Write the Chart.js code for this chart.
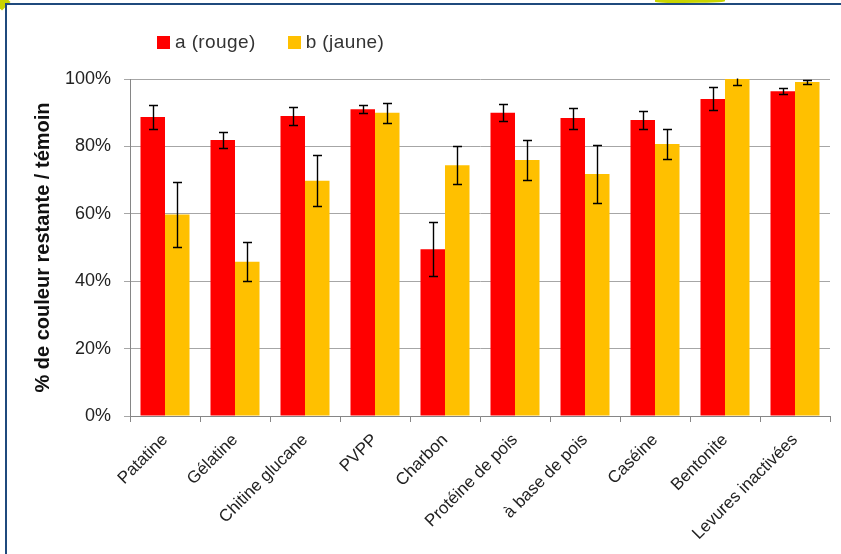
<!DOCTYPE html>
<html>
<head>
<meta charset="utf-8">
<script src="https://cdn.jsdelivr.net/npm/chart.js@4"></script>
<style>
  html, body { margin: 0; padding: 0; background: #fff; }
  #wrap { position: relative; width: 841px; height: 554px; overflow: hidden; }
  #frame { position: absolute; left: 5px; top: 3px; right: -10px; bottom: -10px;
           border-top: 2px solid #1f4a7d; border-left: 2px solid #1f4a7d; pointer-events: none; }
  #swoosh1 { position: absolute; left: 655px; top: 0; width: 70px; height: 3px;
             background: #c8d400; border-radius: 0 0 60% 40%; }
  #swoosh2 { position: absolute; left: -4px; top: -4px; width: 12px; height: 12px;
             background: #c8d400; transform: rotate(45deg); }
  #legend { position: absolute; left: 157px; top: 31px; font: 19px "Liberation Sans", Arial, sans-serif;
            color: #333; display: flex; gap: 32px; letter-spacing: 0.4px; }
  #legend span.box { display: inline-block; width: 13px; height: 13px; margin-right: 5px; vertical-align: -1px; }
  canvas { position: absolute; left: 0; top: 0; }
</style>
</head>
<body>
<div id="wrap">
  <canvas id="chart" width="841" height="554"></canvas>
  <div id="legend">
    <div><span class="box" style="background:#ff0000"></span>a (rouge)</div>
    <div><span class="box" style="background:#ffc000"></span>b (jaune)</div>
  </div>
  <div id="swoosh1"></div>
  <div id="swoosh2"></div>
  <div id="frame"></div>
</div>
<script>
// categories and values (% de couleur restante / témoin)
let categories = ['Patatine', 'Gélatine', 'Chitine glucane', 'PVPP', 'Charbon',
                  'Protéine de pois', 'à base de pois', 'Caséine', 'Bentonite', 'Levures inactivées'];
let rouge = [88.7, 81.9, 89.0, 91.0, 49.5, 90.0, 88.4, 87.8, 94.1, 96.4];
let rougeErr = [3.6, 2.3, 2.6, 1.2, 8.0, 2.6, 3.1, 2.6, 3.4, 0.9];
let jaune = [59.8, 45.8, 69.8, 90.0, 74.4, 76.0, 71.8, 80.7, 100, 99.1];
let jauneErr = [9.6, 5.8, 7.6, 3.0, 5.7, 6.0, 8.6, 4.4, 1.8, 0.7];
let yTicks = [0, 20, 40, 60, 80, 100];

let errorBars = {
    id: 'errorBars',
    afterDatasetsDraw: function(chart) {
        let ctx = chart.ctx;
        let y = chart.scales.y;
        let area = chart.chartArea;
        ctx.save();
        ctx.beginPath();
        ctx.rect(area.left, area.top - 0.5, area.right - area.left, area.bottom - area.top + 1);
        ctx.clip();
        ctx.strokeStyle = '#000';
        ctx.lineWidth = 1.4;
        chart.data.datasets.forEach(function(ds, di) {
            let meta = chart.getDatasetMeta(di);
            meta.data.forEach(function(bar, i) {
                let v = ds.data[i];
                let e = ds.errors[i];
                let yt = Math.round(y.getPixelForValue(v + e)) + 0.5;
                let yb = Math.round(y.getPixelForValue(v - e)) + 0.5;
                let x = Math.round(bar.x) + 0.5;
                ctx.beginPath();
                ctx.moveTo(x, yt); ctx.lineTo(x, yb);
                ctx.moveTo(x - 4.5, yt); ctx.lineTo(x + 4.5, yt);
                ctx.moveTo(x - 4.5, yb); ctx.lineTo(x + 4.5, yb);
                ctx.stroke();
            });
        });
        ctx.restore();
    }
};

let config = {
    type: 'bar',
    data: {
        labels: categories,
        datasets: [
            { label: 'a (rouge)', data: rouge, errors: rougeErr, backgroundColor: '#ff0000' },
            { label: 'b (jaune)', data: jaune, errors: jauneErr, backgroundColor: '#ffc000' }
        ]
    },
    options: {
        responsive: false,
        animation: false,
        layout: { padding: { left: 25, right: 11, top: 79, bottom: 0 } },
        datasets: { bar: { categoryPercentage: 0.7, barPercentage: 1.0 } },
        plugins: {
            legend: { display: false },
            tooltip: { enabled: false }
        },
        scales: {
            y: {
                min: 0,
                max: 100,
                afterBuildTicks: function(scale) {
                    scale.ticks = yTicks.map(function(v) { return { value: v }; });
                },
                afterFit: function(scale) { scale.width = 105; },
                grid: { color: '#a6a6a6', lineWidth: 1, tickLength: 6 },
                border: { color: '#868686' },
                ticks: {
                    padding: 13,
                    color: '#222',
                    font: { family: '"Liberation Sans", Arial, sans-serif', size: 18 },
                    callback: function(value) { return value + '%'; }
                },
                title: {
                    display: true,
                    text: '% de couleur restante / témoin',
                    color: '#111',
                    padding: { top: 6, bottom: 0 },
                    font: { family: '"Liberation Sans", Arial, sans-serif', size: 20, weight: 'bold' }
                }
            },
            x: {
                afterFit: function(scale) { scale.height = 138; },
                grid: { drawOnChartArea: false, color: '#868686', tickLength: 6 },
                border: { color: '#868686' },
                ticks: {
                    maxRotation: 45,
                    minRotation: 45,
                    padding: 8,
                    color: '#222',
                    font: { family: '"Liberation Sans", Arial, sans-serif', size: 17 }
                }
            }
        }
    },
    plugins: [errorBars]
};

let chart = new Chart(document.getElementById('chart'), config);
</script>
</body>
</html>
